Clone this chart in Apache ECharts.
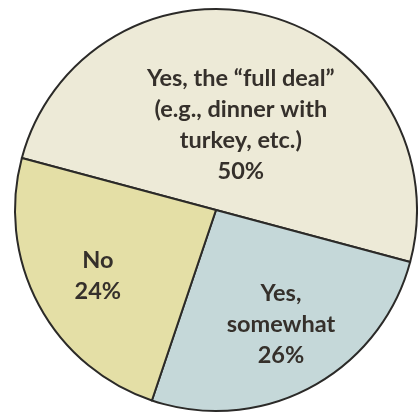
<!DOCTYPE html>
<html>
<head>
<meta charset="utf-8">
<script src="https://cdn.jsdelivr.net/npm/echarts@6/dist/echarts.min.js"></script>
<style>
  html, body { margin: 0; padding: 0; background: #fff; }
  #chart { width: 418px; height: 419px; }
</style>
</head>
<body>
<div id="chart"></div>
<script>
  // slices, clockwise from upper left
  var names = ['Yes, the \u201cfull deal\u201d\n(e.g., dinner with\nturkey, etc.)', 'Yes,\nsomewhat', 'No']
  var values = [50, 26, 24]
  var colors = ['#EDEAD7', '#C5D8D9', '#E4DFA6']

  // nudges so labels sit where the original puts them
  var labelShift = [[-2, 15], [16, 23], [-27, 17]]

  var data = []
  names.forEach(function(n, i){
    data.push({ name: n, value: values[i], itemStyle: { color: colors[i] } })
  })

  var option = {
    animation: false,
    series: [{
      type: 'pie',
      center: [216, 210],
      radius: 201,
      startAngle: 165,
      clockwise: true,
      label: {
        position: 'inside',
        formatter: function(p){ return p.name + '\n' + p.value + '%' },
        fontFamily: 'Lato',
        fontWeight: 'bold',
        fontSize: 23.5,
        lineHeight: 31,
        color: '#35302b',
        align: 'center'
      },
      labelLine: { show: false },
      labelLayout: function(params){
        var s = labelShift[params.dataIndex]
        return { dx: s[0], dy: s[1] }
      },
      itemStyle: { borderColor: '#2b2a28', borderWidth: 2 },
      emphasis: { disabled: true },
      data: data
    }]
  }

  var myChart = echarts.init(document.getElementById('chart'))
  myChart.setOption(option)
</script>
</body>
</html>
